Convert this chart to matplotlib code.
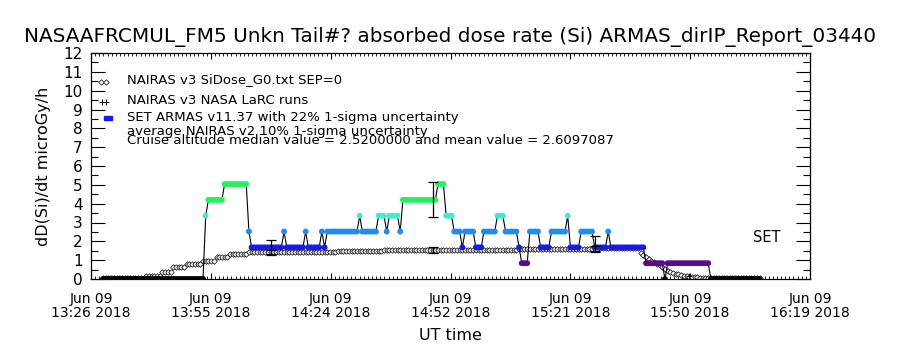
import numpy as np
import matplotlib
matplotlib.use("Agg")
import matplotlib.pyplot as plt
from matplotlib.ticker import FixedLocator, MultipleLocator

title = "NASAAFRCMUL_FM5 Unkn Tail#? absorbed dose rate (Si) ARMAS_dirIP_Report_03440"
xtick_labels = ["Jun 09\n13:26 2018", "Jun 09\n13:55 2018", "Jun 09\n14:24 2018",
                "Jun 09\n14:52 2018", "Jun 09\n15:21 2018", "Jun 09\n15:50 2018",
                "Jun 09\n16:19 2018"]
x_span = 173.0          # minutes after 13:26 UT shown on the axis

# ARMAS samples, run-length coded: level (x 0.84 microGy/h) and number of samples
armas_step = 0.84
armas_level = [0, 4, 5, 6, 3, 2, 3, 2, 3, 2, 3, 2, 3, 4, 3, 4, 3, 4, 3, 5,
               6, 4, 3, 2, 3, 2, 3, 4, 3, 2, 1, 3, 2, 3, 4, 2, 3, 2, 3, 2,
               1, 0, 1, 0]
armas_count = [38, 1, 6, 9, 1, 12, 1, 7, 1, 5, 1, 1, 12, 1, 6, 3, 1, 4, 1, 13,
               3, 3, 3, 1, 4, 3, 5, 3, 5, 1, 3, 4, 4, 6, 1, 4, 5, 5, 1, 13,
               7, 1, 16, 19]
armas_t0 = 2.9          # first sample, minutes after 13:26
armas_dt = 0.65         # sample cadence, minutes

# NAIRAS v3 model along the same samples, run-length coded
nairas_value = [0.05, 0.16, 0.37, 0.63, 0.82, 0.97, 1.16, 1.33, 1.41, 1.48,
                1.54, 1.58, 1.62,
                1.38, 1.25, 1.15, 1.05, 0.97, 0.88, 0.80, 0.72, 0.62, 0.53,
                0.45, 0.39, 0.34, 0.29, 0.25, 0.21, 0.18, 0.15, 0.13, 0.12,
                0.10, 0.09, 0.07, 0.06, 0.05, 0.04,
                0.03]
nairas_count = [16, 6, 4, 5, 6, 5, 5, 7, 33, 17,
                50, 30, 15,
                1, 1, 1, 1, 1, 1, 1, 1, 1, 1,
                1, 1, 1, 1, 1, 1, 1, 1, 1, 1,
                1, 1, 1, 1, 1, 1,
                19]

# error bars (sample index, ARMAS centre, NAIRAS centre)
err_index = [62, 122, 182]
err_armas = [1.68, 4.20, 1.89]
err_nairas = [1.41, 1.54, 1.60]
armas_sigma = 0.22
nairas_sigma = 0.10

# NASA LaRC runs
larc_index = [217]
larc_value = [0.15]

level_colors = {0: "black", 1: "#5a0a8c", 2: "#1a1ae6", 3: "#1e8cf0",
                4: "#40ecd0", 5: "#22f060", 6: "#22f060"}

plt.rcParams["font.family"] = "DejaVu Sans"

levels = np.repeat(armas_level, armas_count)
armas = levels * armas_step
n = len(armas)
t = armas_t0 + armas_dt * np.arange(n)
nairas = np.repeat(nairas_value, nairas_count)

fig = plt.figure(figsize=(9, 3.5), dpi=100)
ax = fig.add_axes([91 / 900, 71 / 350, 719 / 900, 226 / 350])

ax.plot(t, nairas, linestyle="none", marker="D", markersize=2.8,
        markerfacecolor="white", markeredgecolor="black", markeredgewidth=0.5, zorder=2)
ax.plot(t, armas, color="black", linewidth=0.8, zorder=3)
ax.scatter(t, armas, c=[level_colors[k] for k in levels], s=18, marker="o",
           linewidths=0, zorder=4)

ei = np.array(err_index)
ax.errorbar(t[ei], err_armas, yerr=armas_sigma * np.array(err_armas), fmt="none",
            ecolor="black", elinewidth=0.9, capsize=3.5, capthick=0.9, zorder=5)
ax.errorbar(t[ei], err_nairas, yerr=nairas_sigma * np.array(err_nairas), fmt="none",
            ecolor="black", elinewidth=0.9, capsize=3.5, capthick=0.9, zorder=5)
ax.plot(t[np.array(larc_index)], larc_value, linestyle="none", marker="+",
        markersize=4, color="black", markeredgewidth=0.7, zorder=5)

ax.set_xlim(0, x_span)
ax.set_ylim(0, 12)

major = np.linspace(0, x_span, len(xtick_labels))
ax.xaxis.set_major_locator(FixedLocator(major))
ax.xaxis.set_minor_locator(MultipleLocator(x_span / 6 / 29))
ax.set_xticklabels(xtick_labels)
for lbl in ax.get_xticklabels():
    lbl.set_linespacing(1.05)
ax.yaxis.set_major_locator(MultipleLocator(1))
ax.yaxis.set_minor_locator(MultipleLocator(0.5))

ax.tick_params(axis="x", which="major", direction="in", length=4, width=0.8,
               top=True, labelsize=10, pad=9)
ax.tick_params(axis="x", which="minor", direction="in", length=2, width=0.6, top=True)
ax.tick_params(axis="y", which="major", direction="in", length=10, width=0.8,
               right=True, labelsize=11, pad=6)
ax.tick_params(axis="y", which="minor", direction="in", length=5, width=0.8, right=True)
for s in ax.spines.values():
    s.set_linewidth(0.9)

ax.set_ylabel("dD(Si)/dt microGy/h", fontsize=11.5, labelpad=9)
ax.set_xlabel("UT time", fontsize=11.5, labelpad=6)
fig.text(0.5, 1 - 37 / 350, title, ha="center", va="center", fontsize=14.4)

# legend drawn in axes like the original
def to_ax(px, py):
    return ((px - 91) / 719, (279 - py) / 226)

lx, _ = to_ax(127, 0)
ax.plot([to_ax(101, 80)[0], to_ax(106, 80)[0]], [to_ax(0, 82)[1]] * 2, transform=ax.transAxes,
        linestyle="none", marker="D", markersize=2.8, markerfacecolor="white",
        markeredgecolor="black", markeredgewidth=0.5, clip_on=False)
ax.plot([to_ax(102, 0)[0], to_ax(106, 0)[0]], [to_ax(0, 102)[1]] * 2, transform=ax.transAxes,
        linestyle="none", marker="+", markersize=4, color="black", markeredgewidth=0.7)
ax.plot([to_ax(106, 0)[0], to_ax(110, 0)[0]], [to_ax(0, 118)[1]] * 2, transform=ax.transAxes,
        linestyle="none", marker="s", markersize=3.5, color=level_colors[2])
legend_text = [("NAIRAS v3 SiDose_G0.txt SEP=0", 80),
               ("NAIRAS v3 NASA LaRC runs", 100),
               ("SET ARMAS v11.37 with 22% 1-sigma uncertainty", 118),
               ("average NAIRAS v2 10% 1-sigma uncertainty", 131),
               ("Cruise altitude median value = 2.5200000 and mean value = 2.6097087", 141)]
for txt, py in legend_text:
    ax.text(lx, to_ax(0, py)[1], txt, transform=ax.transAxes, fontsize=9.5,
            ha="left", va="center")
ax.text(*to_ax(753, 237), "SET", transform=ax.transAxes, fontsize=10.5,
        ha="left", va="center")

fig.savefig("out.png", dpi=100)
